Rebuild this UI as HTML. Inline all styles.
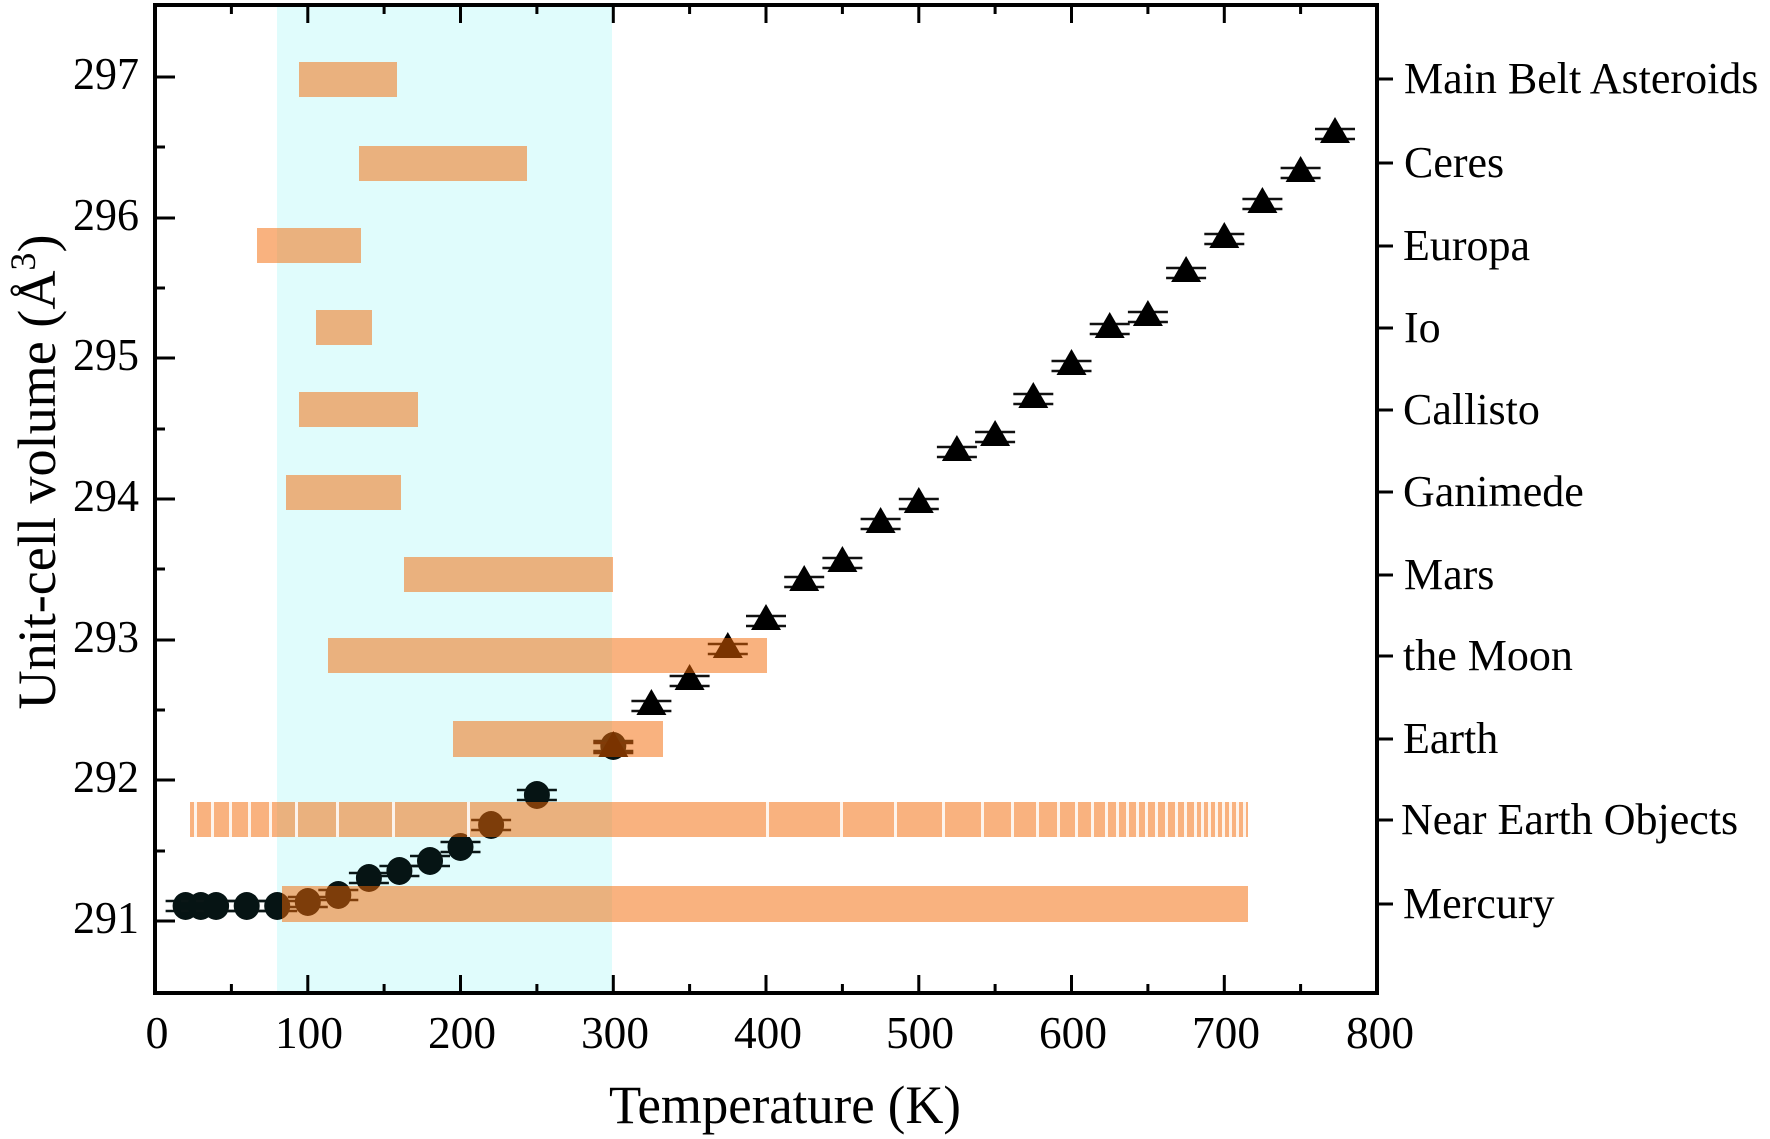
<!DOCTYPE html>
<html><head><meta charset="utf-8"><style>html,body{margin:0;padding:0;background:#fff}svg{display:block}svg text{font-family:"Liberation Serif","DejaVu Serif",serif}</style></head><body>
<svg width="1770" height="1139" viewBox="0 0 1770 1139" xmlns="http://www.w3.org/2000/svg" style="font-family:'Liberation Serif',serif">
<defs>
<g id="c"><line x1="-20" y1="-5" x2="20" y2="-5" stroke="#0a1616" stroke-width="2.5"/><line x1="-20" y1="5" x2="20" y2="5" stroke="#0a1616" stroke-width="2.5"/><ellipse rx="13" ry="14" fill="#061414"/></g>
<g id="t"><line x1="-20" y1="-1" x2="20" y2="-1" stroke="#111" stroke-width="2.5"/><line x1="-20" y1="9" x2="20" y2="9" stroke="#111" stroke-width="2.5"/><polygon points="0,-13 15,13 -15,13" fill="#000"/></g>
</defs>
<rect x="277" y="5" width="335" height="988" fill="#e0fcfc"/>
<use href="#c" x="185.6" y="906"/><use href="#c" x="200.8" y="906"/><use href="#c" x="216.1" y="906"/><use href="#c" x="246.7" y="906"/><use href="#c" x="277.2" y="906"/>
<use href="#c" x="307.8" y="902"/><use href="#c" x="338.3" y="895"/><use href="#c" x="368.9" y="878"/><use href="#c" x="399.4" y="871"/><use href="#c" x="430" y="861"/><use href="#c" x="460.5" y="847"/><use href="#c" x="491.1" y="825"/><use href="#c" x="536.9" y="795"/><use href="#c" x="613.3" y="746"/>
<use href="#t" x="613.3" y="744"/>
<use href="#t" x="651.4" y="702"/><use href="#t" x="689.6" y="677"/><use href="#t" x="727.8" y="645"/><use href="#t" x="766" y="617"/><use href="#t" x="804.2" y="578"/><use href="#t" x="842.4" y="559"/><use href="#t" x="880.6" y="520"/><use href="#t" x="918.8" y="500"/><use href="#t" x="956.9" y="448"/><use href="#t" x="995.1" y="433"/><use href="#t" x="1033.3" y="395"/><use href="#t" x="1071.5" y="362"/><use href="#t" x="1109.7" y="325"/><use href="#t" x="1147.9" y="313"/><use href="#t" x="1186.1" y="269"/><use href="#t" x="1224.3" y="235"/><use href="#t" x="1262.4" y="200"/><use href="#t" x="1300.6" y="169"/><use href="#t" x="1335" y="130"/>
<g fill="rgb(244,102,0)" fill-opacity="0.5">
<rect x="299" y="62" width="98" height="35"/>
<rect x="359" y="146" width="168" height="35"/>
<rect x="257" y="228" width="104" height="35"/>
<rect x="316" y="310" width="56" height="35"/>
<rect x="299" y="392" width="119" height="35"/>
<rect x="286" y="475" width="115" height="35"/>
<rect x="404" y="557" width="209" height="35"/>
<rect x="328" y="638" width="439" height="35"/>
<rect x="453" y="721" width="210" height="36"/>
<rect x="190" y="802" width="1058" height="35"/>
<rect x="282" y="886" width="966" height="36"/>
</g>
<g fill="#fff" fill-opacity="0.85">
<rect x="194" y="802" width="3" height="35"/><rect x="211" y="802" width="3" height="35"/><rect x="229" y="802" width="3" height="35"/><rect x="248" y="802" width="3" height="35"/><rect x="269" y="802" width="3" height="35"/><rect x="295" y="802" width="3" height="35"/><rect x="336" y="802" width="3" height="35"/><rect x="392" y="802" width="3" height="35"/><rect x="467" y="802" width="3" height="35"/>
<rect x="766" y="802" width="3" height="35"/><rect x="840" y="802" width="3" height="35"/><rect x="894" y="802" width="3" height="35"/><rect x="942" y="802" width="3" height="35"/><rect x="981" y="802" width="3" height="35"/><rect x="1011" y="802" width="3" height="35"/><rect x="1036" y="802" width="3" height="35"/><rect x="1057" y="802" width="3" height="35"/><rect x="1075" y="802" width="3" height="35"/><rect x="1091" y="802" width="3" height="35"/><rect x="1105" y="802" width="3" height="35"/><rect x="1116" y="802" width="3" height="35"/><rect x="1126" y="802" width="3" height="35"/><rect x="1136" y="802" width="3" height="35"/><rect x="1145" y="802" width="3" height="35"/><rect x="1155" y="802" width="3" height="35"/><rect x="1165" y="802" width="3" height="35"/><rect x="1175" y="802" width="3" height="35"/><rect x="1184" y="802" width="3" height="35"/><rect x="1194" y="802" width="3" height="35"/><rect x="1201" y="802" width="3" height="35"/><rect x="1208" y="802" width="3" height="35"/><rect x="1215" y="802" width="3" height="35"/><rect x="1222" y="802" width="3" height="35"/><rect x="1229" y="802" width="3" height="35"/><rect x="1236" y="802" width="3" height="35"/><rect x="1243" y="802" width="3" height="35"/>
</g>
<rect x="155" y="5" width="1222" height="988" fill="none" stroke="#000" stroke-width="4"/>
<g stroke="#000" stroke-width="3">
<path d="M155,993v-18M307.8,993v-18M460.5,993v-18M613.3,993v-18M766,993v-18M918.8,993v-18M1071.5,993v-18M1224.3,993v-18M1377,993v-18"/>
<path d="M231.4,993v-9M384.1,993v-9M536.9,993v-9M689.6,993v-9M842.4,993v-9M995.1,993v-9M1147.9,993v-9M1300.6,993v-9"/>
<path d="M307.8,5v18M460.5,5v18M613.3,5v18M766,5v18M918.8,5v18M1071.5,5v18M1224.3,5v18"/>
<path d="M231.4,5v9M384.1,5v9M536.9,5v9M689.6,5v9M842.4,5v9M995.1,5v9M1147.9,5v9M1300.6,5v9"/>
<path d="M155,921h20M155,780h20M155,640h20M155,499h20M155,358h20M155,218h20M155,77h20"/>
<path d="M155,851h10M155,710h10M155,569h10M155,429h10M155,288h10M155,147h10"/>
<path d="M1377,79h16M1377,163h16M1377,246h16M1377,328h16M1377,410h16M1377,492h16M1377,575h16M1377,656h16M1377,739h16M1377,820h16M1377,904h16"/>
</g>
<g font-size="46" text-anchor="end" fill="#000">
<text x="139" y="933" textLength="66" lengthAdjust="spacingAndGlyphs">291</text>
<text x="139" y="792" textLength="66" lengthAdjust="spacingAndGlyphs">292</text>
<text x="139" y="652" textLength="66" lengthAdjust="spacingAndGlyphs">293</text>
<text x="139" y="511" textLength="66" lengthAdjust="spacingAndGlyphs">294</text>
<text x="139" y="370" textLength="66" lengthAdjust="spacingAndGlyphs">295</text>
<text x="139" y="230" textLength="66" lengthAdjust="spacingAndGlyphs">296</text>
<text x="139" y="89" textLength="66" lengthAdjust="spacingAndGlyphs">297</text>
</g>
<g font-size="46" text-anchor="middle" fill="#000">
<text x="157" y="1048">0</text>
<text x="309" y="1048" textLength="68" lengthAdjust="spacingAndGlyphs">100</text>
<text x="462" y="1048" textLength="68" lengthAdjust="spacingAndGlyphs">200</text>
<text x="615" y="1048" textLength="68" lengthAdjust="spacingAndGlyphs">300</text>
<text x="768" y="1048" textLength="68" lengthAdjust="spacingAndGlyphs">400</text>
<text x="920" y="1048" textLength="68" lengthAdjust="spacingAndGlyphs">500</text>
<text x="1073" y="1048" textLength="68" lengthAdjust="spacingAndGlyphs">600</text>
<text x="1226" y="1048" textLength="68" lengthAdjust="spacingAndGlyphs">700</text>
<text x="1380" y="1048" textLength="68" lengthAdjust="spacingAndGlyphs">800</text>
</g>
<g font-size="44" fill="#000">
<text x="1404" y="93">Main Belt Asteroids</text>
<text x="1404" y="177">Ceres</text>
<text x="1403" y="260">Europa</text>
<text x="1404" y="342">Io</text>
<text x="1403" y="424">Callisto</text>
<text x="1403" y="506">Ganimede</text>
<text x="1404" y="589">Mars</text>
<text x="1403" y="670">the Moon</text>
<text x="1403" y="753">Earth</text>
<text x="1401" y="834">Near Earth Objects</text>
<text x="1403" y="918">Mercury</text>
</g>
<text x="785" y="1123" font-size="54" text-anchor="middle" textLength="352" lengthAdjust="spacingAndGlyphs">Temperature (K)</text>
<text transform="translate(55,472) rotate(-90)" font-size="54" text-anchor="middle" textLength="475" lengthAdjust="spacingAndGlyphs">Unit-cell volume (Å<tspan dy="-20" font-size="36">3</tspan><tspan dy="20">)</tspan></text>
</svg>
</body></html>
